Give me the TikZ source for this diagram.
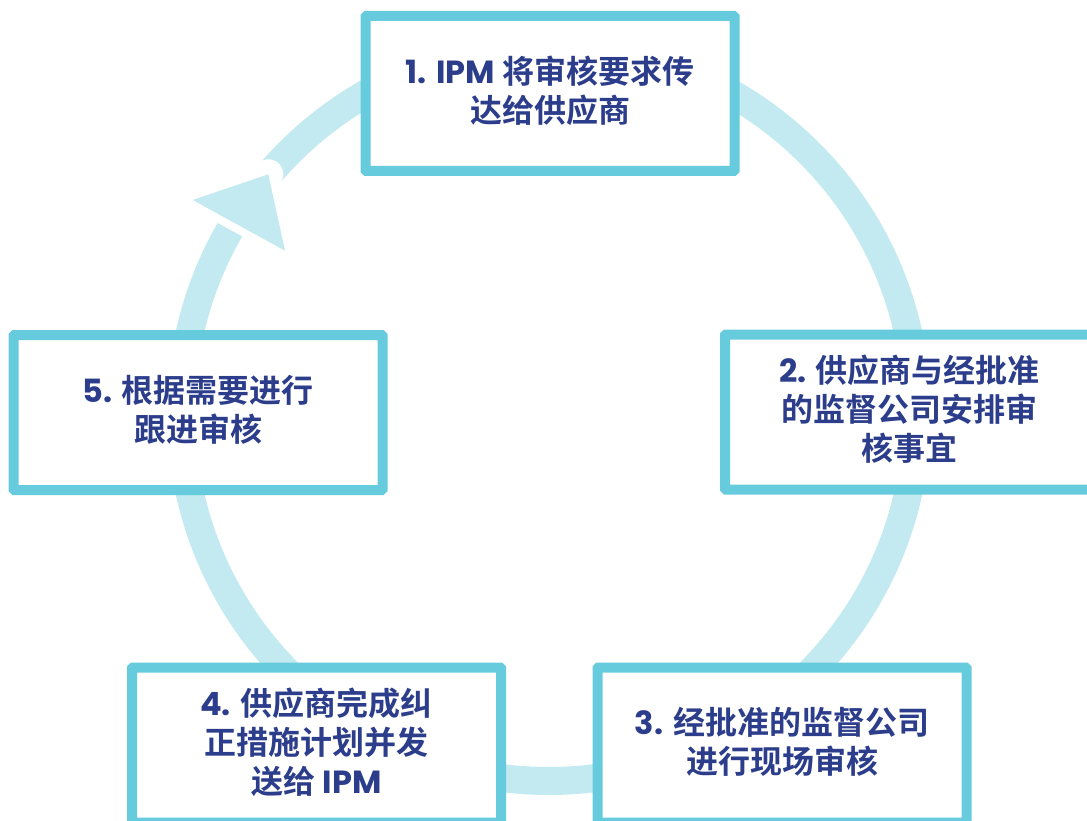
\documentclass[tikz,border=0pt]{standalone}
\usepackage{fontspec}
\setmainfont{Noto Sans CJK SC}[BoldFont=* Bold]
\newfontfamily\lat{Poppins}
\definecolor{ringc}{HTML}{C2EAF0}
\definecolor{boxc}{HTML}{66CCDD}
\definecolor{txtc}{HTML}{2B3D8B}
\tikzset{
  ring/.style={draw=ringc, line width=28pt},
  stepbox/.style={draw=boxc, fill=white, line width=10pt, rounded corners=1pt,
    minimum width=369pt, minimum height=155pt, inner sep=0pt},
  steptext/.style={inner sep=0pt, align=center, text=txtc, yshift=3pt,
    font=\bfseries\fontsize{32}{39}\selectfont},
}
\begin{document}
\begin{tikzpicture}[x=1pt,y=-1pt]
\useasboundingbox (0,0) rectangle (1087,821);
\clip (0,0) rectangle (1087,821);
\fill[white] (0,0) rectangle (1087,821);
\coordinate (c) at (549,413);
\coordinate (apex) at (268.3,174.3);
\coordinate (bl) at (192.7,200);
\coordinate (br) at (285,250.7);
% ring
\draw[ring] (c) ++(220.3:368) arc[start angle=220.3, end angle=572, radius=368];
% arrow head
\fill[white] (apex) circle[radius=15];
\draw[white, line width=16pt, line join=round] (apex) -- (bl) -- (br) -- cycle;
\fill[ringc] (apex) -- (bl) -- (br) -- cycle;
% boxes
\node[stepbox] (s1) at (550,93.5) {};
\node[stepbox] (s2) at (909.5,412) {};
\node[stepbox] (s3) at (782,745) {};
\node[stepbox] (s4) at (316.5,745) {};
\node[stepbox] (s5) at (198,412.5) {};
\node[steptext] (t1) at (s1) {{\lat\bfseries 1. IPM} 将审核要求传\\达给供应商};
\node[steptext] (t2) at (s2) {{\lat\bfseries 2.} 供应商与经批准\\的监督公司安排审\\核事宜};
\node[steptext] (t3) at (s3) {{\lat\bfseries 3.} 经批准的监督公司\\进行现场审核};
\node[steptext] (t4) at (s4) {{\lat\bfseries 4.} 供应商完成纠\\正措施计划并发\\送给 {\lat\bfseries IPM}};
\node[steptext] (t5) at (s5) {{\lat\bfseries 5.} 根据需要进行\\跟进审核};
\end{tikzpicture}
\end{document}
